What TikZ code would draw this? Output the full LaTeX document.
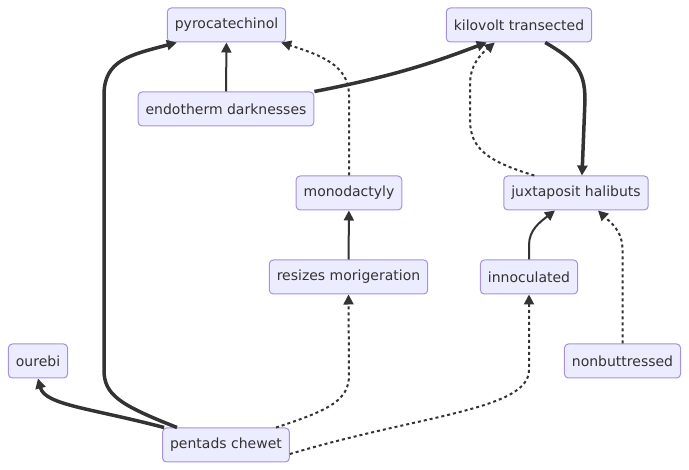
\documentclass[tikz,border=0pt]{standalone}
\usepackage{fontspec}
\setmainfont{DejaVu Sans}
\usepackage{tikz}
\usetikzlibrary{
  arrows.meta,
  positioning,
}
\definecolor{boxpurple}{HTML}{A690DF}
\definecolor{boxlilac}{HTML}{ECECFF}
\definecolor{linegray}{HTML}{333333}

\begin{document}
\begin{tikzpicture}[
    x=1pt, y=-1pt,
    box/.style={rectangle, rounded corners=4pt, draw=boxpurple, fill=boxlilac,
                line width=1pt, minimum height=34pt, inner xsep=7.5pt,
                text=linegray, font=\fontsize{14}{16}\selectfont},
    link/.style={draw=linegray, line width=2pt,
                 -{Triangle[length=10pt,width=10pt]}},
    heavy/.style={link, line width=3.5pt},
    dots/.style={link, dash pattern=on 3pt off 3pt},
  ]
  \useasboundingbox (0,0) rectangle (689,470);

  \node[box] (pyro)    at (226.5,25) {pyrocatechinol};
  \node[box] (kilo)    at (519,25)   {kilovolt transected};
  \node[box] (endo)    at (226,109)  {endotherm darknesses};
  \node[box] (mono)    at (349,193)  {monodactyly};
  \node[box] (jux)     at (576,193)  {juxtaposit halibuts};
  \node[box] (resize)  at (348.5,277) {resizes morigeration};
  \node[box] (innoc)   at (529,277)  {innoculated};
  \node[box] (ourebi)  at (38,361)   {ourebi};
  \node[box] (nonbut)  at (622.5,361) {nonbuttressed};
  \node[box] (pentads) at (226,445)  {pentads chewet};

  % top part
  \draw[link] (endo) -- (pyro);
  \draw[heavy] (endo.north east) .. controls (400,75) and (440,60) .. ([xshift=41pt]kilo.south west);
  \draw[dots] (mono.north) -- (349,95) .. controls (349,65) and (320,55) .. ([xshift=-5pt]pyro.south east);
  \draw[heavy] ([xshift=-47pt]kilo.south east) .. controls (575,60) and (585,70) .. (585,100) -- ([xshift=6pt]jux.north);
  \draw[dots] ([xshift=31pt]jux.north west) .. controls (490,162) and (470,150) .. (470,120) -- (470,85) .. controls (470,65) and (480,55) .. ([xshift=49pt]kilo.south west);

  % middle part
  \draw[link] (resize) -- (mono);
  \draw[link] (innoc.north) -- (529,245) .. controls (529,230) and (540,222) .. ([xshift=-21pt]jux.south);
  \draw[dots] (nonbut.north) -- (622.5,250) .. controls (622.5,230) and (610,222) .. ([xshift=22pt]jux.south);

  % bottom part
  \draw[heavy] ([xshift=-49pt]pentads.north) .. controls (120,405) and (104,395) .. (104,370) -- (104,95) .. controls (104,60) and (130,55) .. ([xshift=10pt]pyro.south west);
  \draw[heavy] ([xshift=2pt]pentads.north west) .. controls (90,408) and (45,405) .. (ourebi.south);
  \draw[dots] ([xshift=50pt]pentads.north) .. controls (330,410) and (349,400) .. (349,375) -- (resize.south);
  \draw[dots] ([yshift=-9pt]pentads.east) .. controls (420,415) and (529,410) .. (529,370) -- (innoc.south);
\end{tikzpicture}
\end{document}
